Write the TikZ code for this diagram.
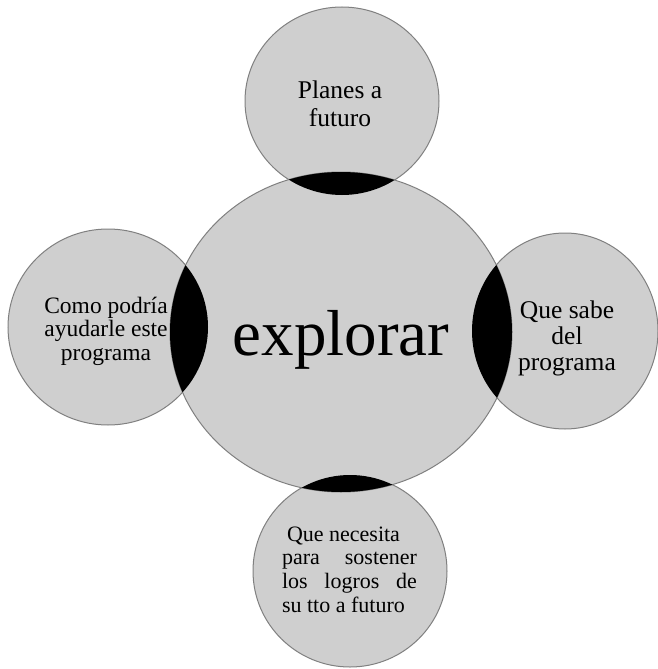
\documentclass[tikz,border=0pt]{standalone}
\usepackage{fontspec}
\setmainfont{Liberation Serif}
\begin{document}
\begin{tikzpicture}[x=1pt,y=-1pt,
  bubble/.style={fill=black!19, draw=black!50, line width=1pt},
  lens/.style={fill=black},
  txt/.style={anchor=base, inner sep=0pt, text=black}]
\useasboundingbox (0,0) rectangle (658,669);
\fill[white] (0,0) rectangle (658,669);
% centres
\coordinate (cM) at (341,332);
\coordinate (cT) at (342,101);
\coordinate (cL) at (108,327);
\coordinate (cR) at (565,331);
\coordinate (cB) at (350,571);
% bubbles
\path[bubble] (cT) ellipse [x radius=97, y radius=94];
\path[bubble] (cL) ellipse [x radius=100, y radius=98];
\path[bubble] (cR) ellipse [x radius=93, y radius=98];
\path[bubble] (cB) ellipse [x radius=97, y radius=96];
\path[bubble] (cM) ellipse [x radius=171, y radius=160];
% dark overlaps
\begin{scope}
  \clip (cM) ellipse [x radius=171, y radius=160];
  \fill[lens] (cT) ellipse [x radius=97, y radius=94];
  \fill[lens] (cL) ellipse [x radius=100, y radius=98];
  \fill[lens] (cR) ellipse [x radius=93, y radius=98];
  \fill[lens] (cB) ellipse [x radius=97, y radius=96];
\end{scope}
% labels
\node[txt] (tM) at (341,355) {\fontsize{65}{70}\selectfont explorar};
\node[txt] (tT) at (340,99) {\fontsize{25.5}{28}\selectfont
  \begin{tabular}[t]{@{}c@{}}Planes a\\ futuro\end{tabular}};
\node[txt] (tL) at (106,313) {\fontsize{23.5}{23.5}\selectfont
  \begin{tabular}[t]{@{}c@{}}Como podría\\ ayudarle este\\ programa\end{tabular}};
\node[txt] (tR) at (567,318) {\fontsize{25.5}{26}\selectfont
  \begin{tabular}[t]{@{}c@{}}Que sabe\\ del\\ programa\end{tabular}};
\node[txt] (tB) at (349.5,541) {\fontsize{22}{23.7}\selectfont
  \begin{tabular}[t]{@{}c@{}}\makebox[135pt][l]{\hspace{5pt}Que necesita}\\
  \makebox[135pt][s]{para sostener}\\
  \makebox[135pt][s]{los logros de}\\
  \makebox[135pt][l]{su tto a futuro}\end{tabular}};
\end{tikzpicture}
\end{document}
